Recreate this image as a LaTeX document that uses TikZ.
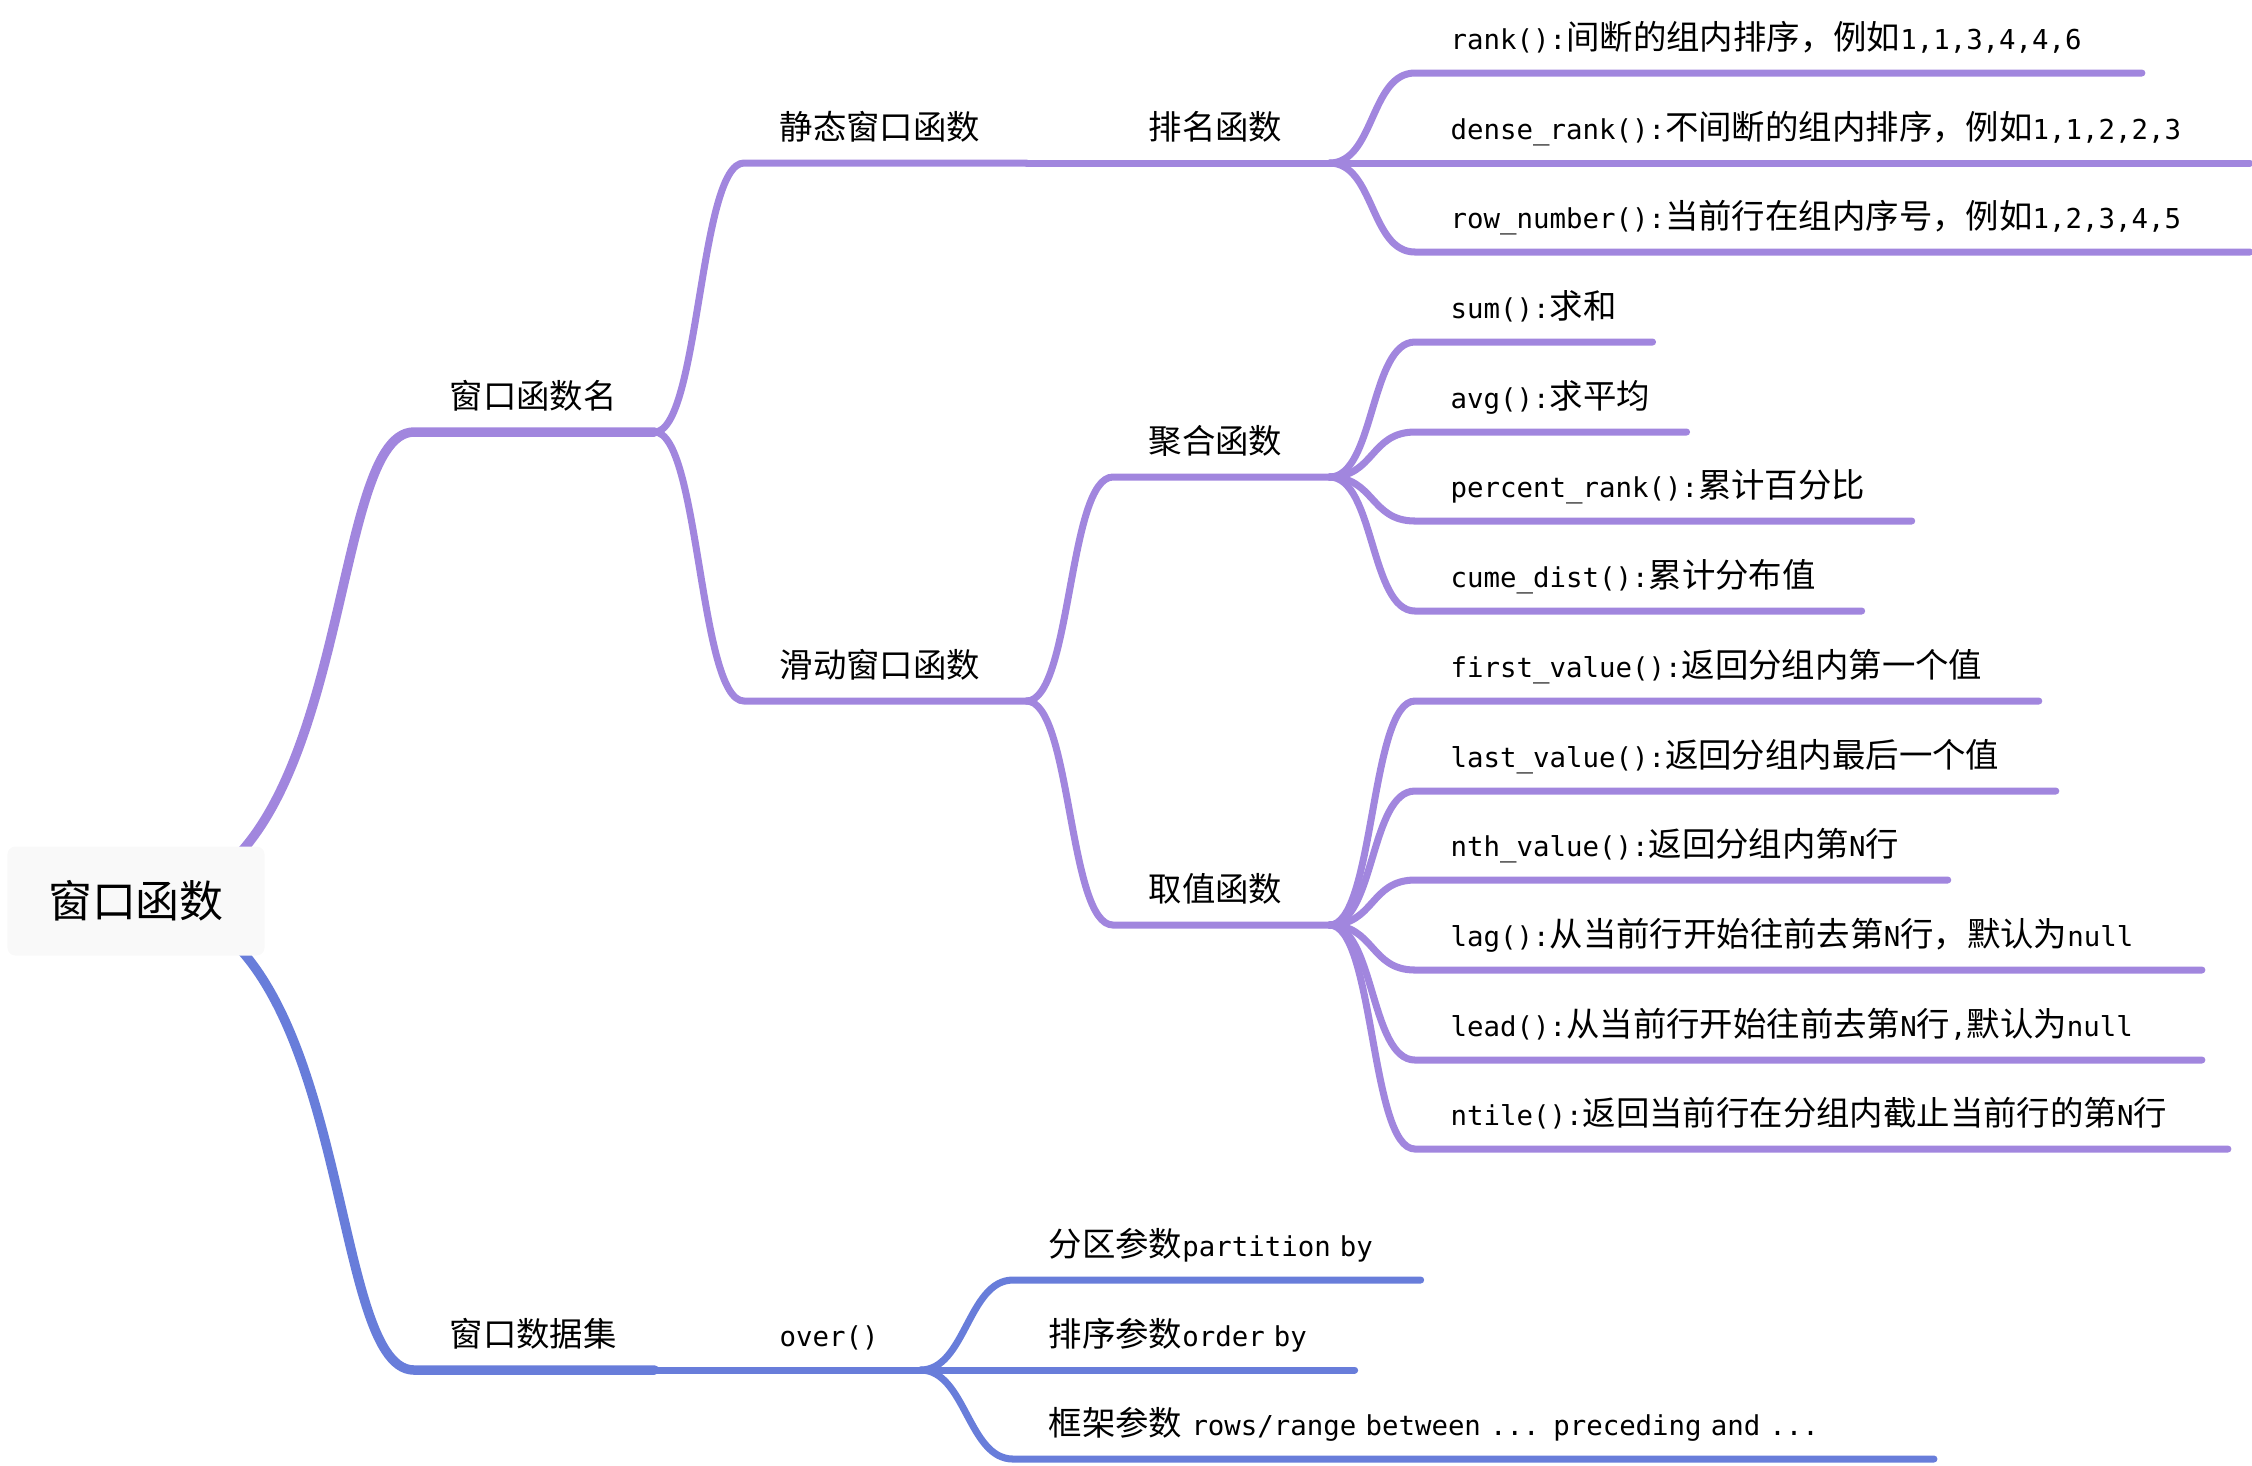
\documentclass[tikz,border=0pt]{standalone}
\usepackage{fontspec}
\setmainfont{DejaVu Sans Mono}[Scale=0.82]
\newfontfamily\zh{Noto Sans CJK SC}
\definecolor{mmpurple}{RGB}{161,134,222}
\definecolor{mmblue}{RGB}{104,125,218}
\definecolor{rootgray}{RGB}{249,249,249}

\begin{document}
\begin{tikzpicture}[x=0.01cm, y=-0.01cm,
  topic/.style={anchor=south west, inner xsep=3.5mm, inner ysep=0pt, minimum height=6.6mm,
    align=left, text width=#1, text height=8pt, text depth=2pt, font=\fontsize{9.5}{11}\selectfont},
  rootbox/.style={fill=rootgray, rounded corners=0.8mm, minimum width=25.7mm, minimum height=10.9mm,
    font=\fontsize{12.5}{14}\selectfont\zh},
  purp/.style={draw=mmpurple, line width=2pt, line cap=round, line join=round},
  blu/.style={draw=mmblue, line width=2pt, line cap=round, line join=round}]
  \useasboundingbox (0,0) rectangle (2252,1465);
  \coordinate (c) at (136,901);

  % first and second level
  \node[topic=16.9mm] (fname) at (414,432) {\zh 窗口函数名};
  \node[topic=16.9mm] (fdata) at (414,1370) {\zh 窗口数据集};
  \node[topic=21.1mm] (static) at (744,163) {\zh 静态窗口函数};
  \node[topic=21.1mm] (sliding) at (744,701) {\zh 滑动窗口函数};
  \node[topic=10.5mm] (over) at (744,1370) {over()};
  \node[topic=14.5mm] (rankfn) at (1113,163) {\zh 排名函数};
  \node[topic=14.5mm] (agg) at (1113,477) {\zh 聚合函数};
  \node[topic=14.5mm] (val) at (1113,925) {\zh 取值函数};

  % leaves
  \node[topic=65.5mm] (rank) at (1415,73) {rank():{\zh 间断的组内排序，例如}1,1,3,4,4,6};
  \node[topic=76.3mm] (dense) at (1415,163) {dense\_rank():{\zh 不间断的组内排序，例如}1,1,2,2,3};
  \node[topic=76.3mm] (row) at (1415,252) {row\_number():{\zh 当前行在组内序号，例如}1,2,3,4,5};
  \node[topic=16.6mm] (sum) at (1415,342) {sum():{\zh 求和}};
  \node[topic=20mm] (avg) at (1415,432) {avg():{\zh 求平均}};
  \node[topic=42.5mm] (pct) at (1415,521) {percent\_rank():{\zh 累计百分比}};
  \node[topic=37.5mm] (cume) at (1415,611) {cume\_dist():{\zh 累计分布值}};
  \node[topic=55.2mm] (first) at (1415,701) {first\_value():{\zh 返回分组内第一个值}};
  \node[topic=56.9mm] (last) at (1415,791) {last\_value():{\zh 返回分组内最后一个值}};
  \node[topic=46.1mm] (nth) at (1415,880) {nth\_value():{\zh 返回分组内第}N{\zh 行}};
  \node[topic=71.5mm] (lag) at (1415,970) {lag():{\zh 从当前行开始往前去第}N{\zh 行，默认为}null};
  \node[topic=71.5mm] (lead) at (1415,1060) {lead():{\zh 从当前行开始往前去第}N{\zh 行},{\zh 默认为}null};
  \node[topic=74.1mm] (ntile) at (1415,1149) {ntile():{\zh 返回当前行在分组内截止当前行的第}N{\zh 行}};
  \node[topic=33.6mm] (part) at (1013,1280) {{\zh 分区参数}partition by};
  \node[topic=27mm] (order) at (1013,1370) {{\zh 排序参数}order by};
  \node[topic=84.9mm] (frame) at (1013,1459) {{\zh 框架参数} rows/range between ... preceding and ...};

  % branches
  \draw[purp, line width=2.7pt] (c) .. controls +(220,0) and +(-90,0) .. (fname.south west) -- (fname.south east);
  \draw[blu, line width=2.7pt] (c) .. controls +(220,0) and +(-90,0) .. (fdata.south west) -- (fdata.south east);
  \foreach \a/\b in {fname/static, fname/sliding, static/rankfn, sliding/agg, sliding/val,
      rankfn/rank, rankfn/dense, rankfn/row, agg/sum, agg/avg, agg/pct, agg/cume,
      val/first, val/last, val/nth, val/lag, val/lead, val/ntile}
    \draw[purp] (\a.south east) .. controls +(45,0) and +(-45,0) .. (\b.south west) -- (\b.south east);
  \foreach \a/\b in {fdata/over, over/part, over/order, over/frame}
    \draw[blu] (\a.south east) .. controls +(45,0) and +(-45,0) .. (\b.south west) -- (\b.south east);

  \node[rootbox] (root) at (c) {窗口函数};
\end{tikzpicture}
\end{document}
